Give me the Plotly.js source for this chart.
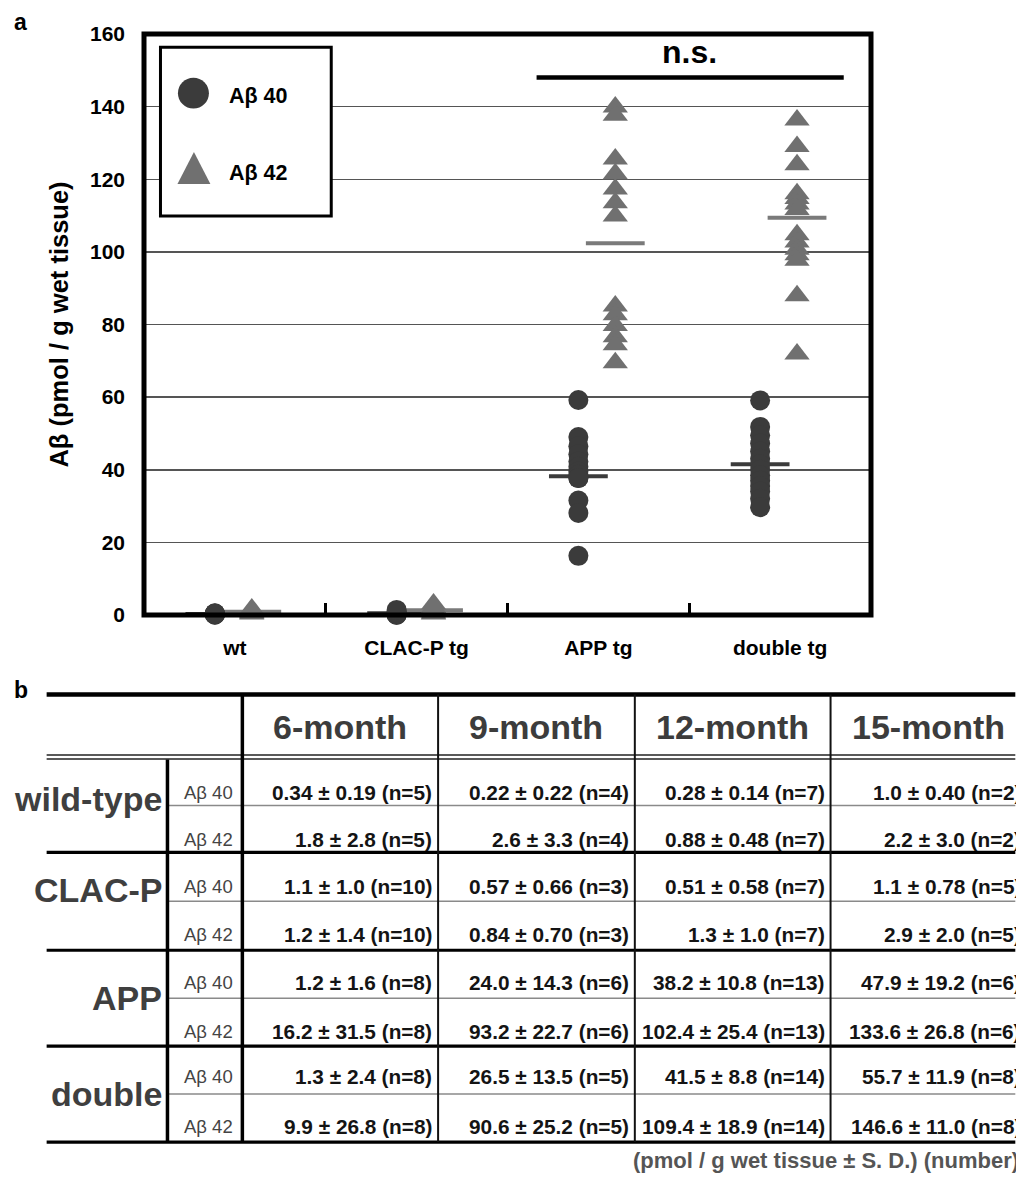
<!DOCTYPE html>
<html>
<head>
<meta charset="utf-8">
<script src="https://cdn.plot.ly/plotly-3.0.1.min.js"></script>
<style>
html,body{margin:0;padding:0;background:#fff;}
#chart{width:1016px;height:1178px;}
</style>
</head>
<body>
<div id="chart"></div>
<script>
// ---------- Panel a data (12-month animals) ----------
const groups = ['wt', 'CLAC-P tg', 'APP tg', 'double tg'];
const yTicks = [0, 20, 40, 60, 80, 100, 120, 140, 160];

const ab40_wt     = [0.1, 0.15, 0.2, 0.3, 0.35, 0.4, 0.46];
const ab40_clac   = [0.05, 0.1, 0.2, 0.35, 0.6, 0.9, 1.4];
const ab40_app    = [59.2, 49.0, 46.5, 44.3, 42.3, 40.8, 39.5, 38.6, 37.7, 37.7, 31.5, 28.1, 16.3];
const ab40_double = [59.1, 51.8, 49.5, 47.2, 45.0, 43.0, 41.5, 40.0, 38.5, 37.0, 35.5, 34.0, 32.0, 29.7];

const ab42_wt     = [0.3, 0.5, 0.6, 0.8, 1.0, 1.3, 1.66];
const ab42_clac   = [0.3, 0.5, 0.8, 1.0, 1.4, 2.1, 3.0];
const ab42_app    = [139.9, 137.6, 125.6, 121.5, 117.3, 113.5, 109.9, 85.1, 82.7, 79.7, 76.6, 74.4, 69.5];
const ab42_double = [136.3, 129.0, 124.0, 116.0, 114.7, 113.2, 111.7, 104.7, 102.7, 100.7, 99.2, 97.7, 87.9, 71.9];

// ---------- Panel b table data ----------
const months = ['6-month', '9-month', '12-month', '15-month'];
const tableGroups = ['wild-type', 'CLAC-P', 'APP', 'double'];
const peptides = ['Aβ 40', 'Aβ 42'];
const wt40     = ['0.34 ± 0.19 (n=5)', '0.22 ± 0.22 (n=4)', '0.28 ± 0.14 (n=7)', '1.0 ± 0.40 (n=2)'];
const wt42     = ['1.8 ± 2.8 (n=5)', '2.6 ± 3.3 (n=4)', '0.88 ± 0.48 (n=7)', '2.2 ± 3.0 (n=2)'];
const clac40   = ['1.1 ± 1.0 (n=10)', '0.57 ± 0.66 (n=3)', '0.51 ± 0.58 (n=7)', '1.1 ± 0.78 (n=5)'];
const clac42   = ['1.2 ± 1.4 (n=10)', '0.84 ± 0.70 (n=3)', '1.3 ± 1.0 (n=7)', '2.9 ± 2.0 (n=5)'];
const app40    = ['1.2 ± 1.6 (n=8)', '24.0 ± 14.3 (n=6)', '38.2 ± 10.8 (n=13)', '47.9 ± 19.2 (n=6)'];
const app42    = ['16.2 ± 31.5 (n=8)', '93.2 ± 22.7 (n=6)', '102.4 ± 25.4 (n=13)', '133.6 ± 26.8 (n=6)'];
const double40 = ['1.3 ± 2.4 (n=8)', '26.5 ± 13.5 (n=5)', '41.5 ± 8.8 (n=14)', '55.7 ± 11.9 (n=8)'];
const double42 = ['9.9 ± 26.8 (n=8)', '90.6 ± 25.2 (n=5)', '109.4 ± 18.9 (n=14)', '146.6 ± 11.0 (n=8)'];
const footerText = '(pmol / g wet tissue ± S. D.) (number)';

// ---------- geometry helpers (pixel -> paper) ----------
const PL = 143.5, PR = 871.5, PT = 33.8, PB = 615.4;
const X = px => (px - PL) / (PR - PL);
const Y = py => (PB - py) / (PB - PT);
const FONT = 'Liberation Sans, Arial, Helvetica, sans-serif';

const off40 = -0.11, off42 = 0.093;
const c40 = '#3b3b3b', c42 = '#707070';

const sets40 = [ab40_wt, ab40_clac, ab40_app, ab40_double];
const sets42 = [ab42_wt, ab42_clac, ab42_app, ab42_double];
function xs(sets, off) { return sets.flatMap((a, i) => a.map(() => i + off)); }

// means shown as bars = 12-month column of the table
const rows40 = [wt40, clac40, app40, double40];
const rows42 = [wt42, clac42, app42, double42];
const mean40 = rows40.map(r => parseFloat(r[2]));
const mean42 = rows42.map(r => parseFloat(r[2]));

const traces = [
  {type: 'scatter', mode: 'markers', x: groups.map((g, i) => i + off40), y: mean40, cliponaxis: false,
   marker: {symbol: 'line-ew', size: 42, line: {width: 4, color: c40}}, hoverinfo: 'skip'},
  {type: 'scatter', mode: 'markers', x: groups.map((g, i) => i + off42), y: mean42, cliponaxis: false,
   marker: {symbol: 'line-ew', size: 42, line: {width: 4, color: '#7a7a7a'}}, hoverinfo: 'skip'},
  {type: 'scatter', mode: 'markers', name: 'Aβ 40', x: xs(sets40, off40), y: sets40.flat(), cliponaxis: false,
   marker: {symbol: 'circle', size: 20, color: c40, line: {width: 0}}},
  {type: 'scatter', mode: 'markers', name: 'Aβ 42', x: xs(sets42, off42), y: sets42.flat(), cliponaxis: false,
   marker: {symbol: 'triangle-up', size: 22, color: c42, line: {width: 0}}}
];

const shapes = [];
const annotations = [];

// plot frame
shapes.push({type: 'rect', xref: 'paper', yref: 'paper', x0: 0, x1: 1, y0: 0, y1: 1,
  line: {color: '#000', width: 5}, layer: 'above'});
// n.s. bar
shapes.push({type: 'line', xref: 'x', yref: 'y', x0: 1.66, x1: 3.35, y0: 148, y1: 148,
  line: {color: '#000', width: 4.5}});
annotations.push({xref: 'x', yref: 'y', x: 2.5, y: 155, text: 'n.s.', showarrow: false,
  font: {family: FONT, size: 32, weight: 'bold', color: '#000'}});

// legend box
shapes.push({type: 'rect', xref: 'paper', yref: 'paper', x0: X(160), x1: X(331), y0: Y(216), y1: Y(47),
  fillcolor: '#fff', line: {color: '#000', width: 3}, layer: 'above'});
shapes.push({type: 'circle', xref: 'paper', yref: 'paper', x0: X(177.5), x1: X(208.5), y0: Y(108.5), y1: Y(77.5),
  fillcolor: c40, line: {width: 0}, layer: 'above'});
shapes.push({type: 'path', xref: 'paper', yref: 'paper',
  path: `M ${X(177)} ${Y(184)} L ${X(210)} ${Y(184)} L ${X(193.5)} ${Y(152)} Z`,
  fillcolor: c42, line: {width: 0}, layer: 'above'});
annotations.push({xref: 'paper', yref: 'paper', x: X(227), y: Y(95.4), xanchor: 'left', yanchor: 'middle',
  text: peptides[0], showarrow: false, font: {family: FONT, size: 21.5, weight: 'bold', color: '#000'}});
annotations.push({xref: 'paper', yref: 'paper', x: X(227), y: Y(172.6), xanchor: 'left', yanchor: 'middle',
  text: peptides[1], showarrow: false, font: {family: FONT, size: 21.5, weight: 'bold', color: '#000'}});

// panel labels
annotations.push({xref: 'paper', yref: 'paper', x: X(11), y: Y(22), xanchor: 'left', yanchor: 'middle',
  text: 'a', showarrow: false, font: {family: FONT, size: 23, weight: 'bold', color: '#000'}});
annotations.push({xref: 'paper', yref: 'paper', x: X(11), y: Y(690), xanchor: 'left', yanchor: 'middle',
  text: 'b', showarrow: false, font: {family: FONT, size: 23, weight: 'bold', color: '#000'}});

// ---------- table geometry ----------
const hline = (y, x0, x1, w, c) => shapes.push({type: 'line', xref: 'paper', yref: 'paper',
  x0: X(x0), x1: X(x1), y0: Y(y), y1: Y(y), line: {color: c, width: w}});
const vline = (x, y0, y1, w, c) => shapes.push({type: 'line', xref: 'paper', yref: 'paper',
  x0: X(x), x1: X(x), y0: Y(y0), y1: Y(y1), line: {color: c, width: w}});

const tLeft = 46, tRight = 1016;
const rowMids = [806, 902, 999, 1095];
const colX = [242, 438, 635, 831, 1028];

hline(695, tLeft, tRight, 4.5, '#000');
hline(755.5, tLeft, tRight, 1.5, '#222');
hline(759.5, tLeft, tRight, 1.5, '#222');
[853, 951, 1047, 1143].forEach(y => hline(y, tLeft, tRight, 3.2, '#000'));
rowMids.forEach(y => hline(y, 167, tRight, 1.5, '#8a8a8a'));
vline(167, 760, 1143, 3.5, '#000');
vline(242, 695, 1143, 3.5, '#000');
[438, 635, 831].forEach(x => vline(x, 695, 1143, 2, '#111'));

// headers
months.forEach((m, i) => annotations.push({xref: 'paper', yref: 'paper',
  x: X((colX[i] + colX[i + 1]) / 2), y: Y(728), xanchor: 'center', yanchor: 'middle',
  text: m, showarrow: false, font: {family: FONT, size: 34, weight: 'bold', color: '#3c3c3c'}}));

// group labels
const groupLabelY = [800, 891, 999, 1095];
tableGroups.forEach((g, i) => annotations.push({xref: 'paper', yref: 'paper',
  x: X(164), y: Y(groupLabelY[i]), xanchor: 'right', yanchor: 'middle',
  text: g, showarrow: false, font: {family: FONT, size: 34, weight: 'bold', color: '#3f3f3f'}}));

// data rows
const tableRows = [wt40, wt42, clac40, clac42, app40, app42, double40, double42];
const rowTextY = [793, 840, 887, 935, 983, 1032, 1077, 1127];
tableRows.forEach((row, r) => {
  annotations.push({xref: 'paper', yref: 'paper', x: X(208), y: Y(rowTextY[r]),
    xanchor: 'center', yanchor: 'middle', text: peptides[r % 2], showarrow: false,
    font: {family: FONT, size: 18.5, color: '#444'}});
  row.forEach((cell, c) => annotations.push({xref: 'paper', yref: 'paper',
    x: X(colX[c + 1] - 4), y: Y(rowTextY[r]), xanchor: 'right', yanchor: 'middle',
    text: cell, showarrow: false, font: {family: FONT, size: 20.8, weight: 'bold', color: '#141414'}}));
});

annotations.push({xref: 'paper', yref: 'paper', x: X(1022), y: Y(1161), xanchor: 'right', yanchor: 'middle',
  text: footerText, showarrow: false, font: {family: FONT, size: 22, weight: 'bold', color: '#555'}});

const layout = {
  width: 1016, height: 1178,
  margin: {l: PL, r: 1016 - PR, t: PT, b: 1178 - PB, pad: 0},
  paper_bgcolor: '#fff', plot_bgcolor: '#fff',
  showlegend: false,
  font: {family: FONT, color: '#000'},
  xaxis: {
    range: [-0.5, 3.5], tickmode: 'array', tickvals: groups.map((g, i) => i), ticktext: groups,
    ticks: '', showgrid: false, zeroline: false, showline: false, fixedrange: true,
    tickfont: {family: FONT, size: 21, weight: 'bold', color: '#000'}, ticklabelstandoff: 18,
    minor: {tickmode: 'array', tickvals: [0.5, 1.5, 2.5], ticks: 'inside', ticklen: 12, tickwidth: 3,
            tickcolor: '#000', showgrid: false}
  },
  yaxis: {
    range: [0, 160], tickmode: 'array', tickvals: yTicks, ticks: '', showgrid: true,
    gridcolor: '#555', gridwidth: 1.5, zeroline: false, showline: false, fixedrange: true,
    tickfont: {family: FONT, size: 21, weight: 'bold', color: '#000'}, ticklabelstandoff: 18,
    title: {text: 'Aβ (pmol / g wet tissue)', font: {family: FONT, size: 25.5, weight: 'bold', color: '#000'}, standoff: 14}
  },
  shapes: shapes,
  annotations: annotations
};

Plotly.newPlot('chart', traces, layout, {staticPlot: true, displayModeBar: false});
</script>
</body>
</html>
